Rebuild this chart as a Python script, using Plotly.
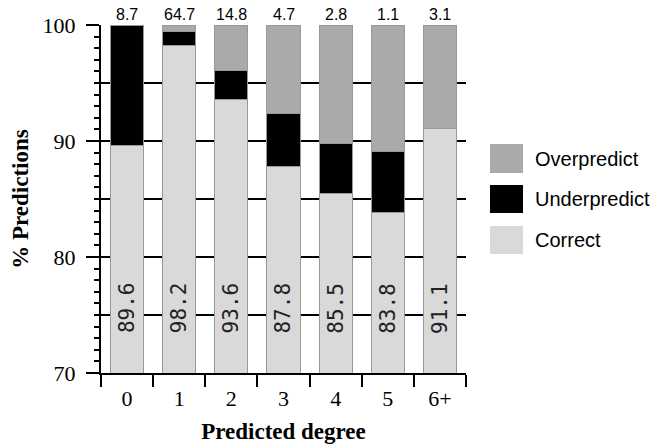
import plotly.graph_objects as go

categories = ["0", "1", "2", "3", "4", "5", "6+"]
correct = [89.6, 98.2, 93.6, 87.8, 85.5, 83.8, 91.1]
underpredict = [10.4, 1.2, 2.5, 4.6, 4.3, 5.3, 0.0]
overpredict = [0.0, 0.6, 3.9, 7.6, 10.2, 10.9, 8.9]
share = ["8.7", "64.7", "14.8", "4.7", "2.8", "1.1", "3.1"]
series_names = ["Overpredict", "Underpredict", "Correct"]
series_colors = ["#aaaaaa", "#000000", "#d9d9d9"]

L, R, T, B = 101, 191, 25, 71
W, H = 657, 444
PW, PH = W - L - R, H - T - B

fig = go.Figure()
line = dict(color="#999999", width=1)
fig.add_trace(go.Bar(x=categories, y=correct, name="Correct",
                     marker=dict(color=series_colors[2], line=line), showlegend=False))
fig.add_trace(go.Bar(x=categories, y=underpredict, name="Underpredict",
                     marker=dict(color=series_colors[1], line=line), showlegend=False))
fig.add_trace(go.Bar(x=categories, y=overpredict, name="Overpredict",
                     marker=dict(color=series_colors[0], line=line), showlegend=False))
# dummy trace for grid axis
fig.add_trace(go.Scatter(x=categories, y=[None]*len(categories), yaxis="y2",
                         showlegend=False, hoverinfo="skip"))

annotations = []
for c, s in zip(categories, share):
    annotations.append(dict(x=c, y=1, xref="x", yref="paper", text=s, showarrow=False,
                            yanchor="bottom", yshift=0,
                            font=dict(family="Liberation Sans, Arial", size=16, color="#000")))
for c, v in zip(categories, correct):
    annotations.append(dict(x=c, y=75.6, xref="x", yref="y", text=f"{v:.1f}", showarrow=False,
                            textangle=-90,
                            font=dict(family="DejaVu Sans Mono", size=21, color="#222")))

shapes = []
sq_x0 = (490 - L) / PW
sq_x1 = (523 - L) / PW
txt_x = (533 - L) / PW
legend_rows = [(144, 173, 158.5), (185, 213, 199), (226, 254, 240)]
for (py0, py1, pc), name, col in zip(legend_rows, series_names, series_colors):
    shapes.append(dict(type="rect", xref="paper", yref="paper",
                       x0=sq_x0, x1=sq_x1, y0=(H - B - py1) / PH, y1=(H - B - py0) / PH,
                       fillcolor=col, line=dict(width=0)))
    annotations.append(dict(x=txt_x, y=(H - B - pc) / PH, xref="paper", yref="paper",
                            text=name, showarrow=False, xanchor="left", yanchor="middle",
                            font=dict(family="Liberation Sans, Arial", size=20, color="#000")))

serif = "Liberation Serif, Times New Roman"
fig.update_layout(
    width=W, height=H,
    margin=dict(l=L, r=R, t=T, b=B, autoexpand=False),
    paper_bgcolor="white", plot_bgcolor="white",
    barmode="stack", bargap=0.365,
    showlegend=False,
    annotations=annotations, shapes=shapes,
    xaxis=dict(
        range=[-0.5, 6.5], type="category", tickson="boundaries", automargin=False,
        ticks="outside", ticklen=12, tickwidth=2, tickcolor="black",
        showline=True, linecolor="black", linewidth=2, showgrid=False,
        ticklabelstandoff=5,
        tickfont=dict(family=serif, size=22, color="black"),
        title=dict(text="<b>Predicted degree</b>", font=dict(family=serif, size=23, color="black"),
                   standoff=13),
    ),
    yaxis=dict(
        range=[70, 100], tick0=70, dtick=10, automargin=False,
        ticks="outside", ticklen=13, tickwidth=2, tickcolor="black",
        minor=dict(dtick=1, ticks="outside", ticklen=5, tickwidth=1.5, tickcolor="black", showgrid=False),
        showline=True, linecolor="black", linewidth=2, showgrid=False, zeroline=False,
        ticklabelstandoff=6,
        tickfont=dict(family=serif, size=22, color="black"),
        title=dict(text="<b>% Predictions</b>", font=dict(family=serif, size=23, color="black"),
                   standoff=8),
    ),
    yaxis2=dict(
        range=[70, 100], tick0=70, dtick=5, overlaying="y", anchor="x", automargin=False,
        showgrid=True, gridcolor="black", gridwidth=2,
        showticklabels=False, ticks="", showline=False, zeroline=False,
    ),
)

fig.write_html("out.html")
